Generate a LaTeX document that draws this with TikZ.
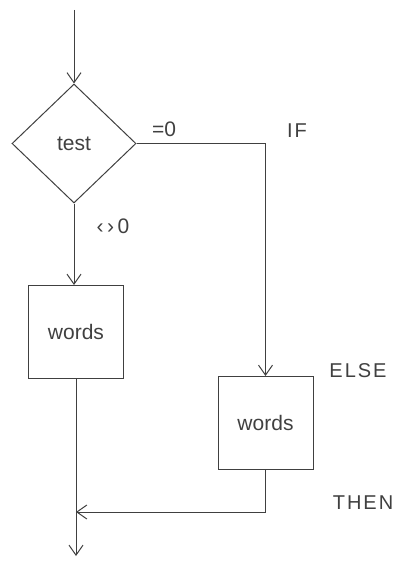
\documentclass[tikz,border=0pt]{standalone}
\usepackage{fontspec}
\setmainfont{Liberation Sans}
\usetikzlibrary{arrows.meta,shapes.geometric}

\tikzset{
    flow/.style={-{Straight Barb[length=10pt,width=14pt]}},
    testbox/.style={draw, diamond, minimum width=124pt, minimum height=119pt, inner sep=0pt},
    wordbox/.style={draw, minimum width=95pt, minimum height=93pt, inner sep=0pt},
    tag/.style={font=\fontsize{20}{22}\selectfont\addfontfeature{LetterSpace=10}}
}

\begin{document}
\begin{tikzpicture}[x=1pt, y=-1pt, line width=1pt, color=black!75,
        font=\fontsize{21}{24}\selectfont]
        \useasboundingbox (0,0) rectangle (395,564);

        \coordinate (start) at (74,10);
        \node[testbox] (test) at (74,143.5) {test};
        \node[wordbox] (words1) at (76,332) {words};
        \node[wordbox] (words2) at (265.5,423) {words};
        \coordinate (join) at (76,512);
        \coordinate (end) at (76,556);

        % the two branches
        \draw[flow] (start) -- (test.north);
        \draw[flow] (test.south) -- (test.south |- words1.north);
        \draw[flow] (test.east) -| (words2.north);
        \draw[flow] (words1.south) -- (end);
        \draw[flow] (words2.south) |- (join);

        \node (eq) at (164,129) {=0};
        \node (ne) at (113,226) {‹\,›\,0};
        \node[tag] (if) at (297,131) {IF};
        \node[tag] (else) at (358,371) {ELSE};
        \node[tag] (then) at (363,503) {THEN};
    \end{tikzpicture}
\end{document}
